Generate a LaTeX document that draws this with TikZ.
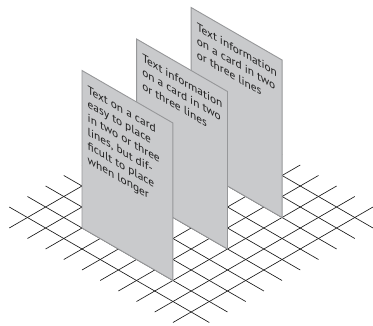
\documentclass[tikz,border=0pt]{standalone}
\usepackage{fontspec}
\setmainfont{PT Sans}
\definecolor{cardfill}{RGB}{201,202,204}
\definecolor{cardedge}{RGB}{150,151,153}
\definecolor{gridcol}{RGB}{25,25,25}
\tikzset{
  gridline/.style={draw=gridcol, line width=0.65pt},
  cardpanel/.style={fill=cardfill, draw=cardedge, line width=0.9pt, line join=miter},
  cardtext/.style={anchor=north west, inner sep=0pt, align=left,
    font=\fontsize{11.4}{14}\selectfont, text=black!88,
    cm={1,-0.57735,0,1,(0,0)}}
}
\begin{document}
\begin{tikzpicture}[x=1pt,y=1pt]
\useasboundingbox (0,0) rectangle (373,325);
\begin{scope}[shift={(82,97)}, x={(18.187pt,-10.5pt)}, y={(18.187pt,10.5pt)}, z={(0pt,10.5pt)}]
  % floor grid
  \foreach \j in {-1,...,8} \draw[gridline] (-3,\j) -- (8,\j);
  \foreach \i in {-2,...,7} \draw[gridline] (\i,-2) -- (\i,9);
  % cards, back to front
  \draw[cardpanel] (0,6,0) -- (5,6,0) -- (5,6,15) -- (0,6,15) -- cycle;
  \path (0,6,15) ++(5.5pt,-14.5pt) node[cardtext] (t3) {Text information\\on a card in two\\or three lines};
  \draw[cardpanel] (0,3,0) -- (5,3,0) -- (5,3,15) -- (0,3,15) -- cycle;
  \path (0,3,15) ++(5.5pt,-14.5pt) node[cardtext] (t2) {Text information\\on a card in two\\or three lines};
  \draw[cardpanel] (0,0,0) -- (5,0,0) -- (5,0,15) -- (0,0,15) -- cycle;
  \path (0,0,15) ++(5.5pt,-14.5pt) node[cardtext] (t1) {Text on a card\\easy to place\\in two or three\\lines, but dif-\\ficult to place\\when longer};
\end{scope}
\end{tikzpicture}
\end{document}
